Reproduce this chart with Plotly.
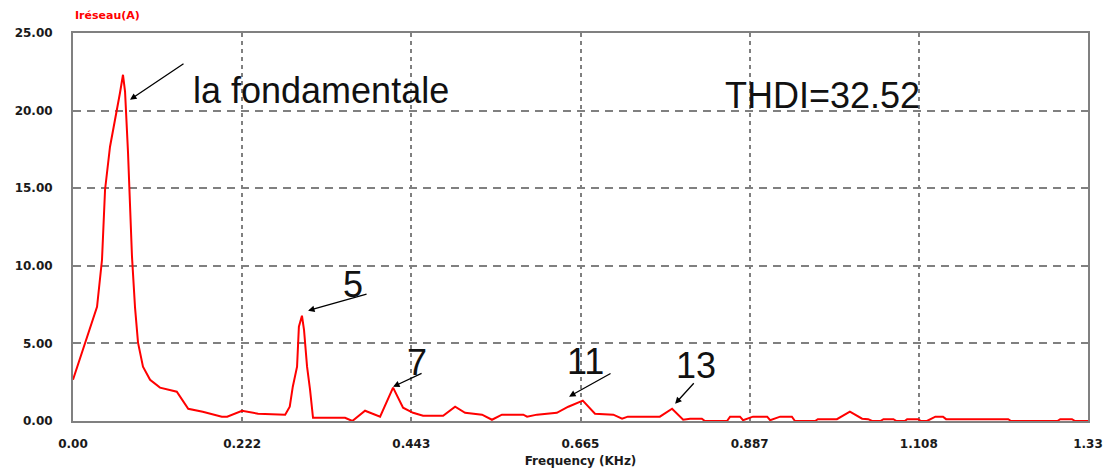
import plotly.graph_objects as go

# Spectre du courant réseau (kHz, A)
freq_khz = [
    0.000, 0.0157, 0.0315, 0.038, 0.042, 0.0485, 0.055, 0.0616, 0.0655, 0.0682,
    0.0721, 0.0747, 0.0773, 0.0813, 0.0852, 0.0917, 0.101, 0.114, 0.127, 0.136,
    0.151, 0.170, 0.195, 0.202, 0.2215, 0.2425, 0.278, 0.284, 0.288, 0.2936,
    0.296, 0.300, 0.3027, 0.3067, 0.3106, 0.3145, 0.3565, 0.366, 0.3827, 0.4024,
    0.4194, 0.4325, 0.4456, 0.4587, 0.485, 0.5007, 0.5138, 0.536, 0.549, 0.562,
    0.590, 0.595, 0.608, 0.634, 0.649, 0.668, 0.684, 0.708, 0.7195, 0.727,
    0.769, 0.785, 0.7995, 0.8086, 0.824, 0.828, 0.857, 0.861, 0.874, 0.878,
    0.891, 0.9096, 0.9135, 0.9266, 0.942, 0.946, 0.9725, 0.976, 1.001, 1.018,
    1.034, 1.042, 1.047, 1.058, 1.062, 1.075, 1.079, 1.090, 1.093, 1.1075,
    1.111, 1.119, 1.130, 1.140, 1.144, 1.2255, 1.229, 1.290, 1.2936, 1.309,
    1.313, 1.330,
]
i_reseau = [
    2.66, 5.05, 7.36, 10.39, 14.90, 17.67, 19.28, 21.15, 22.31, 21.22,
    17.29, 14.07, 10.59, 7.30, 5.05, 3.50, 2.66, 2.15, 2.02, 1.89,
    0.79, 0.60, 0.28, 0.28, 0.66, 0.47, 0.41, 0.92, 2.21, 3.50,
    6.08, 6.78, 5.88, 3.50, 2.02, 0.21, 0.21, 0.00, 0.66, 0.28,
    2.15, 0.86, 0.53, 0.34, 0.34, 0.92, 0.53, 0.41, 0.08, 0.41,
    0.41, 0.28, 0.41, 0.53, 0.92, 1.31, 0.47, 0.41, 0.15, 0.28,
    0.28, 0.79, 0.08, 0.15, 0.15, 0.00, 0.00, 0.28, 0.28, 0.05,
    0.28, 0.28, 0.05, 0.28, 0.28, 0.00, 0.00, 0.12, 0.12, 0.60,
    0.15, 0.12, 0.00, 0.00, 0.12, 0.12, 0.00, 0.00, 0.12, 0.12,
    0.00, 0.00, 0.28, 0.28, 0.12, 0.12, 0.00, 0.00, 0.12, 0.12,
    0.00, 0.00,
]

x_tickvals = [0.0, 0.2217, 0.4433, 0.665, 0.8867, 1.1083, 1.33]
x_ticktext = ["0.00", "0.222", "0.443", "0.665", "0.887", "1.108", "1.33"]
y_tickvals = [0, 5, 10, 15, 20, 25]
y_ticktext = ["0.00", "5.00", "10.00", "15.00", "20.00", "25.00"]

# Harmonic markers: label, arrow head (kHz, A), arrow tail offset (px), label position
harm_labels = ["5", "7", "11", "13"]
harm_head_f = [0.308, 0.4194, 0.650, 0.789]
harm_head_v = [7.11, 2.21, 1.57, 1.11]
harm_ax = [60, 30, 43, 20]
harm_ay = [-17, -14, -24, -22]
harm_text_f = [0.3675, 0.4509, 0.671, 0.8165]
harm_text_v = [8.80, 3.80, 3.85, 3.55]

GRID = "#808080"
TICK_FONT = dict(family="DejaVu Sans", size=12, color="#1a1a1a", weight="bold")
BIG_FONT = dict(family="Liberation Sans", size=36, color="#111111")

fig = go.Figure()
fig.add_trace(go.Scatter(
    x=freq_khz, y=i_reseau, mode="lines",
    line=dict(color="#ff0000", width=2),
    hoverinfo="skip", showlegend=False,
))

annotations = [
    dict(text="Iréseau(A)", xref="paper", yref="paper", x=0.0, y=1.0,
         xanchor="left", yanchor="bottom", yshift=9, showarrow=False,
         font=dict(family="DejaVu Sans", size=11, color="#ff0000", weight="bold")),
    dict(text="la fondamentale", x=0.3245, y=21.3, xanchor="center", yanchor="middle",
         showarrow=False, font=BIG_FONT),
    dict(text="THDI=32.52", x=0.982, y=21.0, xanchor="center", yanchor="middle",
         showarrow=False, font=BIG_FONT),
    dict(text="", x=0.0747, y=20.7, ax=55, ay=-37, showarrow=True,
         arrowhead=2, arrowsize=1, arrowwidth=1.3, arrowcolor="#000000"),
]
for lab, hf, hv, ax, ay, tf, tv in zip(harm_labels, harm_head_f, harm_head_v,
                                       harm_ax, harm_ay, harm_text_f, harm_text_v):
    annotations.append(dict(text="", x=hf, y=hv, ax=ax, ay=ay, showarrow=True,
                            arrowhead=2, arrowsize=1, arrowwidth=1.3,
                            arrowcolor="#000000"))
    annotations.append(dict(text=lab, x=tf, y=tv, xanchor="center", yanchor="middle",
                            showarrow=False, font=BIG_FONT))

fig.update_layout(
    width=1105, height=468,
    margin=dict(l=73, r=17, t=33, b=47),
    paper_bgcolor="white", plot_bgcolor="white",
    annotations=annotations,
    xaxis=dict(
        range=[0, 1.33], tickvals=x_tickvals, ticktext=x_ticktext,
        showgrid=True, gridcolor=GRID, gridwidth=2, griddash="4px,4px",
        showline=True, linecolor=GRID, linewidth=2, mirror=True,
        zeroline=False, ticks="", ticklabelstandoff=11, tickfont=TICK_FONT,
        title=dict(text="Frequency (KHz)", font=TICK_FONT, standoff=15),
        automargin=False,
    ),
    yaxis=dict(
        range=[0, 25], tickvals=y_tickvals, ticktext=y_ticktext,
        showgrid=True, gridcolor=GRID, gridwidth=2, griddash="8px,6px",
        showline=True, linecolor=GRID, linewidth=2, mirror=True,
        zeroline=False, ticks="", ticklabelstandoff=16, tickfont=TICK_FONT,
        automargin=False,
    ),
)

fig.write_html("out.html")
